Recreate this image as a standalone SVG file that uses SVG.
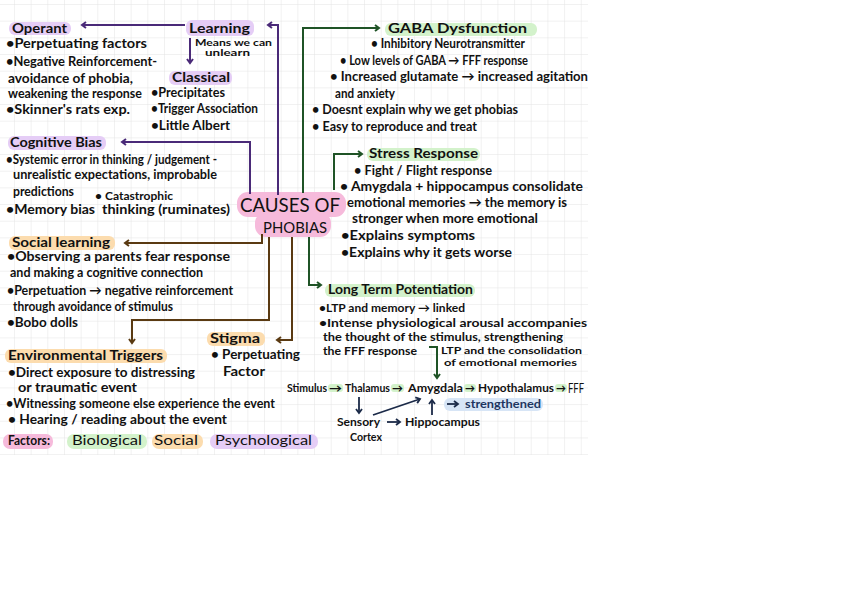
<svg xmlns="http://www.w3.org/2000/svg" width="842" height="595" viewBox="0 0 842 595">
<defs>
<style>
text{font-family:Lato,"Open Sans",sans-serif;fill:#111;}
.h{font-size:14px;font-weight:700;}
.b{font-size:12.5px;font-weight:700;}
.m{font-size:11.5px;font-weight:700;}
.s{font-size:10.5px;font-weight:700;}
.xs{font-size:9px;font-weight:700;}
.big{font-size:19px;font-weight:400;}
.p{fill:#e5cdf6;}
.g{fill:#d3f2cb;}
.o{fill:#fcdcae;}
.k{fill:#f6badb;}
.bl{fill:#d7e5f6;}
.cp{fill:none;stroke:#4a2a78;stroke-width:2;}
.cg{fill:none;stroke:#1f5326;stroke-width:2;}
.co{fill:none;stroke:#5a3a12;stroke-width:2;}
.cn{fill:none;stroke:#1b2a48;stroke-width:1.8;}
</style>
<pattern id="grid" width="16.67" height="16.67" patternUnits="userSpaceOnUse" x="-2.7" y="4">
<path d="M0 0H16.67M0 0V16.67" fill="none" stroke="#e3e3e3" stroke-width="1"/>
</pattern>
<marker id="ap" markerWidth="8" markerHeight="8" refX="5" refY="4" orient="auto" markerUnits="userSpaceOnUse"><path d="M1,1 L5,4 L1,7" fill="none" stroke="#4a2a78" stroke-width="2"/></marker>
<marker id="ag" markerWidth="8" markerHeight="8" refX="5" refY="4" orient="auto" markerUnits="userSpaceOnUse"><path d="M1,1 L5,4 L1,7" fill="none" stroke="#1f5326" stroke-width="2"/></marker>
<marker id="ao" markerWidth="8" markerHeight="8" refX="5" refY="4" orient="auto" markerUnits="userSpaceOnUse"><path d="M1,1 L5,4 L1,7" fill="none" stroke="#5a3a12" stroke-width="2"/></marker>
<marker id="an" markerWidth="8" markerHeight="8" refX="5" refY="4" orient="auto" markerUnits="userSpaceOnUse"><path d="M1,1 L5,4 L1,7" fill="none" stroke="#1b2a48" stroke-width="1.8"/></marker>
</defs>
<rect width="842" height="595" fill="#fff"/>
<rect x="0" y="0" width="588" height="455" fill="url(#grid)"/>

<g id="learning">
<rect class="p" x="186" y="20" width="68" height="16" rx="6"/>
<text class="h" x="189" y="33" textLength="61" lengthAdjust="spacingAndGlyphs">Learning</text>
<text class="xs" x="195" y="46" textLength="77" lengthAdjust="spacingAndGlyphs">Means we can</text>
<text class="xs" x="205" y="56" textLength="45" lengthAdjust="spacingAndGlyphs">unlearn</text>
</g>

<g id="operant">
<rect class="p" x="9" y="22" width="62" height="13" rx="6"/>
<text class="h" x="12" y="33" textLength="55" lengthAdjust="spacingAndGlyphs">Operant</text>
<text class="b" x="6" y="48" textLength="141" lengthAdjust="spacingAndGlyphs">•Perpetuating factors</text>
<text class="b" x="6" y="66" textLength="151" lengthAdjust="spacingAndGlyphs">•Negative Reinforcement-</text>
<text class="b" x="8" y="83" textLength="125" lengthAdjust="spacingAndGlyphs">avoidance of phobia,</text>
<text class="b" x="8" y="98" textLength="134" lengthAdjust="spacingAndGlyphs">weakening the response</text>
<text class="b" x="6" y="114" textLength="124" lengthAdjust="spacingAndGlyphs">•Skinner's rats exp.</text>
</g>

<g id="classical">
<rect class="p" x="169" y="71" width="63" height="14" rx="6"/>
<text class="h" x="172" y="82" textLength="58" lengthAdjust="spacingAndGlyphs">Classical</text>
<text class="b" x="151" y="97" textLength="74" lengthAdjust="spacingAndGlyphs">•Precipitates</text>
<text class="b" x="151" y="113" textLength="107" lengthAdjust="spacingAndGlyphs">•Trigger Association</text>
<text class="b" x="151" y="130" textLength="79" lengthAdjust="spacingAndGlyphs">•Little Albert</text>
</g>

<g id="cognitive-bias">
<rect class="p" x="8" y="136" width="98" height="14" rx="6"/>
<text class="h" x="10" y="147" textLength="92" lengthAdjust="spacingAndGlyphs">Cognitive Bias</text>
<text class="b" x="6" y="164" textLength="211" lengthAdjust="spacingAndGlyphs">•Systemic error in thinking / judgement -</text>
<text class="b" x="13" y="179" textLength="204" lengthAdjust="spacingAndGlyphs">unrealistic expectations, improbable</text>
<text class="b" x="13" y="196" textLength="61" lengthAdjust="spacingAndGlyphs">predictions</text>
<text class="s" x="95" y="200" textLength="78" lengthAdjust="spacingAndGlyphs">• Catastrophic</text>
<text class="b" x="6" y="214" textLength="89" lengthAdjust="spacingAndGlyphs">•Memory bias</text>
<text class="b" x="102" y="214" textLength="128" lengthAdjust="spacingAndGlyphs">thinking (ruminates)</text>
</g>

<g id="causes">
<rect class="k" x="237" y="192" width="109" height="25" rx="11"/>
<rect class="k" x="255" y="212" width="76" height="25" rx="11"/>
<text class="big" x="240" y="212" textLength="100" lengthAdjust="spacingAndGlyphs">CAUSES OF</text>
<text class="big" x="263" y="233" textLength="64" lengthAdjust="spacingAndGlyphs" style="font-size:16px">PHOBIAS</text>
</g>

<g id="gaba">
<rect class="g" x="385" y="23" width="152" height="13" rx="6"/>
<text class="h" x="388" y="33" textLength="139" lengthAdjust="spacingAndGlyphs">GABA Dysfunction</text>
<text class="b" x="371" y="48" textLength="154" lengthAdjust="spacingAndGlyphs">• Inhibitory Neurotransmitter</text>
<text class="b" x="340" y="65" textLength="188" lengthAdjust="spacingAndGlyphs">• Low levels of GABA → FFF response</text>
<text class="b" x="330" y="81" textLength="258" lengthAdjust="spacingAndGlyphs">• Increased glutamate → increased agitation</text>
<text class="b" x="335" y="98" textLength="60" lengthAdjust="spacingAndGlyphs">and anxiety</text>
<text class="b" x="312" y="114" textLength="206" lengthAdjust="spacingAndGlyphs">• Doesnt explain why we get phobias</text>
<text class="b" x="312" y="131" textLength="165" lengthAdjust="spacingAndGlyphs">• Easy to reproduce and treat</text>
</g>

<g id="stress">
<rect class="g" x="367" y="148" width="113" height="13" rx="6"/>
<text class="h" x="369" y="158" textLength="109" lengthAdjust="spacingAndGlyphs">Stress Response</text>
<text class="b" x="354" y="175" textLength="138" lengthAdjust="spacingAndGlyphs">• Fight / Flight response</text>
<text class="b" x="340" y="191" textLength="243" lengthAdjust="spacingAndGlyphs">• Amygdala + hippocampus consolidate</text>
<text class="b" x="347" y="207" textLength="220" lengthAdjust="spacingAndGlyphs">emotional memories → the memory is</text>
<text class="b" x="352" y="223" textLength="186" lengthAdjust="spacingAndGlyphs">stronger when more emotional</text>
<text class="b" x="341" y="240" textLength="134" lengthAdjust="spacingAndGlyphs">•Explains symptoms</text>
<text class="b" x="341" y="257" textLength="171" lengthAdjust="spacingAndGlyphs">•Explains why it gets worse</text>
</g>

<g id="ltp">
<rect class="g" x="325" y="284" width="150" height="13" rx="6"/>
<text class="h" x="328" y="294" textLength="145" lengthAdjust="spacingAndGlyphs">Long Term Potentiation</text>
<text class="m" x="319" y="312" textLength="146" lengthAdjust="spacingAndGlyphs">•LTP and memory → linked</text>
<text class="m" x="319" y="327" textLength="268" lengthAdjust="spacingAndGlyphs">•Intense physiological arousal accompanies</text>
<text class="m" x="323" y="341" textLength="240" lengthAdjust="spacingAndGlyphs">the thought of the stimulus, strengthening</text>
<text class="m" x="323" y="355" textLength="94" lengthAdjust="spacingAndGlyphs">the FFF response</text>
<text class="xs" x="441" y="354" textLength="141" lengthAdjust="spacingAndGlyphs">LTP and the consolidation</text>
<text class="xs" x="444" y="366" textLength="133" lengthAdjust="spacingAndGlyphs">of emotional memories</text>
</g>

<g id="pathway">
<rect class="g" x="328" y="384" width="15" height="8" rx="3"/>
<rect class="g" x="391" y="384" width="13" height="8" rx="3"/>
<rect class="g" x="464" y="384" width="12" height="8" rx="3"/>
<rect class="g" x="555" y="384" width="12" height="8" rx="3"/>
<text class="s" x="287" y="392" textLength="40" lengthAdjust="spacingAndGlyphs">Stimulus</text>
<text class="s" x="329" y="392" textLength="13" lengthAdjust="spacingAndGlyphs">→</text>
<text class="s" x="345" y="392" textLength="45" lengthAdjust="spacingAndGlyphs">Thalamus</text>
<text class="s" x="392" y="392" textLength="11" lengthAdjust="spacingAndGlyphs">→</text>
<text class="s" x="408" y="392" textLength="55" lengthAdjust="spacingAndGlyphs">Amygdala</text>
<text class="s" x="465" y="392" textLength="10" lengthAdjust="spacingAndGlyphs">→</text>
<text class="s" x="478" y="392" textLength="76" lengthAdjust="spacingAndGlyphs">Hypothalamus</text>
<text class="s" x="556" y="392" textLength="10" lengthAdjust="spacingAndGlyphs">→</text>
<text class="h" x="568" y="393" textLength="16" lengthAdjust="spacingAndGlyphs" style="font-weight:400">FFF</text>
<rect class="bl" x="444" y="398" width="99" height="13" rx="6"/>
<text class="s" x="465" y="408" textLength="76" lengthAdjust="spacingAndGlyphs" style="fill:#1e3560">strengthened</text>
<text class="s" x="337" y="426" textLength="43" lengthAdjust="spacingAndGlyphs">Sensory</text>
<text class="s" x="350" y="441" textLength="32" lengthAdjust="spacingAndGlyphs">Cortex</text>
<text class="s" x="405" y="426" textLength="75" lengthAdjust="spacingAndGlyphs">Hippocampus</text>
</g>

<g id="social">
<rect class="o" x="9" y="236" width="106" height="14" rx="6"/>
<text class="h" x="12" y="247" textLength="98" lengthAdjust="spacingAndGlyphs">Social learning</text>
<text class="b" x="7" y="261" textLength="223" lengthAdjust="spacingAndGlyphs">•Observing a parents fear response</text>
<text class="b" x="10" y="277" textLength="193" lengthAdjust="spacingAndGlyphs">and making a cognitive connection</text>
<text class="b" x="7" y="295" textLength="226" lengthAdjust="spacingAndGlyphs">•Perpetuation → negative reinforcement</text>
<text class="b" x="13" y="311" textLength="160" lengthAdjust="spacingAndGlyphs">through avoidance of stimulus</text>
<text class="b" x="7" y="327" textLength="71" lengthAdjust="spacingAndGlyphs">•Bobo dolls</text>
</g>

<g id="stigma">
<rect class="o" x="207" y="332" width="58" height="14" rx="6"/>
<text class="h" x="210" y="343" textLength="50" lengthAdjust="spacingAndGlyphs">Stigma</text>
<text class="b" x="211" y="359" textLength="89" lengthAdjust="spacingAndGlyphs">• Perpetuating</text>
<text class="b" x="223" y="376" textLength="42" lengthAdjust="spacingAndGlyphs">Factor</text>
</g>

<g id="environmental">
<rect class="o" x="5" y="349" width="162" height="14" rx="6"/>
<text class="h" x="8" y="360" textLength="155" lengthAdjust="spacingAndGlyphs">Environmental Triggers</text>
<text class="b" x="8" y="377" textLength="187" lengthAdjust="spacingAndGlyphs">•Direct exposure to distressing</text>
<text class="b" x="18" y="392" textLength="119" lengthAdjust="spacingAndGlyphs">or traumatic event</text>
<text class="b" x="6" y="408" textLength="269" lengthAdjust="spacingAndGlyphs">•Witnessing someone else experience the event</text>
<text class="b" x="8" y="424" textLength="219" lengthAdjust="spacingAndGlyphs">• Hearing / reading about the event</text>
</g>

<g id="factors">
<rect class="k" x="3" y="434" width="50" height="15" rx="7"/>
<rect class="g" x="67" y="434" width="80" height="15" rx="7"/>
<rect class="o" x="152" y="434" width="51" height="15" rx="7"/>
<rect class="p" x="210" y="434" width="108" height="15" rx="7"/>
<text class="h" x="8" y="445" textLength="42" lengthAdjust="spacingAndGlyphs">Factors:</text>
<text class="h" x="72" y="445" textLength="70" lengthAdjust="spacingAndGlyphs" style="font-weight:400">Biological</text>
<text class="h" x="154" y="445" textLength="44" lengthAdjust="spacingAndGlyphs" style="font-weight:400">Social</text>
<text class="h" x="215" y="445" textLength="97" lengthAdjust="spacingAndGlyphs" style="font-weight:400">Psychological</text>
</g>

<g id="connectors">
<path class="cp" d="M185,25 H82" marker-end="url(#ap)"/>
<path class="cp" d="M190,38 V63" marker-end="url(#ap)"/>
<path class="cp" d="M278,195 V25 H268" marker-end="url(#ap)"/>
<path class="cp" d="M250,194 V142 H122" marker-end="url(#ap)"/>
<path class="cg" d="M303,193 V28 H379" marker-end="url(#ag)"/>
<path class="cg" d="M334,190 V154 H362" marker-end="url(#ag)"/>
<path class="cg" d="M309,237 V285 H321" marker-end="url(#ag)"/>
<path class="cg" d="M429,347 H437 V378" marker-end="url(#ag)"/>
<path class="co" d="M262,234 V243 H125" marker-end="url(#ao)"/>
<path class="co" d="M269,237 V320 H132 V343" marker-end="url(#ao)"/>
<path class="co" d="M292,237 V340 H277" marker-end="url(#ao)"/>
<path class="cn" d="M359,397 V413" marker-end="url(#an)"/>
<path class="cn" d="M373,415 L420,399" marker-end="url(#an)"/>
<path class="cn" d="M432,415 V400" marker-end="url(#an)"/>
<path class="cn" d="M387,422 H400" marker-end="url(#an)"/>
<path class="cn" d="M447,404 H458" marker-end="url(#an)"/>
</g>
</svg>
